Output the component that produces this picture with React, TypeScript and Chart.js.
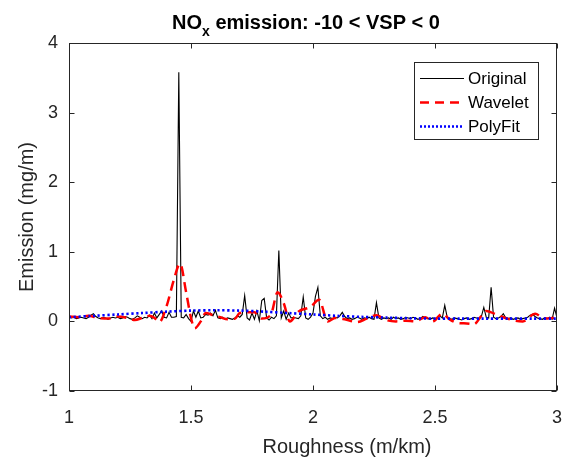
import React, { useEffect, useRef } from "react";
import { Chart, registerables } from "chart.js";

Chart.register(...registerables);

// ---- Data ----
const X_START = 1.0;
const X_STEP = 0.01;
// Original signal, sampled every 0.01 from 1.00 to 3.00
const originalY = [
  0.07, 0.05, 0.06, 0.04, 0.05, 0.06, 0.05, 0.04, 0.06, 0.09,
  0.11, 0.07, 0.05, 0.04, 0.06, 0.05, 0.03, 0.05, 0.06, 0.05,
  0.06, 0.04, 0.05, 0.07, 0.06, 0.04, 0.03, 0.05, 0.08, 0.06,
  0.04, 0.06, 0.05, 0.09, 0.04, 0.12, 0.05, 0.10, 0.15, 0.06,
  0.05, 0.13, 0.06, 0.06, 0.07, 3.58, 0.06, 0.05, 0.10, 0.04,
  0.00, 0.15, 0.06, 0.15, 0.05, 0.06, 0.10, 0.09, 0.12, 0.08,
  0.16, 0.05, 0.04, 0.06, 0.03, 0.05, 0.04, 0.03, 0.05, 0.08,
  0.06, 0.10, 0.37, 0.05, 0.02, 0.12, 0.03, 0.15, 0.01, 0.30,
  0.33, 0.05, 0.02, 0.06, 0.04, 0.08, 1.02, 0.05, 0.15, 0.03,
  0.12, 0.05, 0.06, 0.05, 0.04, 0.08, 0.35, 0.05, 0.03, 0.06,
  0.12, 0.36, 0.49, 0.08, 0.04, 0.06, 0.03, 0.05, 0.04, 0.06,
  0.05, 0.08, 0.13, 0.07, 0.04, 0.05, 0.03, 0.04, 0.06, 0.05,
  0.03, 0.05, 0.04, 0.06, 0.04, 0.03, 0.27, 0.05, 0.03, 0.05,
  0.04, 0.05, 0.03, 0.06, 0.04, 0.05, 0.03, 0.04, 0.06, 0.05,
  0.04, 0.06, 0.05, 0.03, 0.04, 0.07, 0.05, 0.04, 0.03, 0.05,
  0.04, 0.06, 0.08, 0.05, 0.23, 0.06, 0.04, 0.03, 0.05, 0.04,
  0.03, 0.02, 0.04, 0.05, 0.03, 0.04, 0.06, 0.05, 0.04, 0.07,
  0.20, 0.06, 0.05, 0.49, 0.06, 0.04, 0.05, 0.07, 0.11, 0.05,
  0.04, 0.05, 0.03, 0.04, 0.05, 0.03, 0.04, 0.05, 0.06, 0.09,
  0.10, 0.07, 0.05, 0.04, 0.03, 0.05, 0.04, 0.06, 0.03, 0.19,
  0.05,
];

const waveletX = [
  1.0, 1.04, 1.08, 1.12, 1.16, 1.2, 1.24, 1.27, 1.3, 1.33, 1.35, 1.37,
  1.4, 1.43, 1.455, 1.48, 1.5, 1.515, 1.54, 1.56, 1.59, 1.62, 1.65, 1.68,
  1.7, 1.73, 1.76, 1.79, 1.81, 1.83, 1.855, 1.88, 1.905, 1.94, 1.99, 2.025,
  2.06, 2.09, 2.13, 2.18, 2.22, 2.26, 2.3, 2.34, 2.38, 2.42, 2.46, 2.49,
  2.53, 2.56, 2.59, 2.63, 2.66, 2.69, 2.71, 2.73, 2.78, 2.83, 2.86, 2.91,
  2.95, 2.98, 3.0,
];
const waveletY = [
  0.07, 0.06, 0.08, 0.05, 0.04, 0.07, 0.05, 0.02, 0.05, 0.08, 0.05, -0.01,
  0.22, 0.6, 0.83, 0.42, 0.05, -0.1, 0.0, 0.12, 0.09, 0.06, 0.03, 0.04,
  0.12, 0.13, 0.13, 0.04, 0.05, 0.12, 0.42, 0.26, 0.0, 0.14, 0.21, 0.31,
  0.0, 0.05, 0.03, -0.01, 0.04, 0.09, 0.02, 0.0, 0.01, 0.0, 0.06, 0.0,
  0.11, 0.03, -0.02, -0.03, -0.04, 0.08, 0.15, 0.13, 0.06, 0.01, 0.0, 0.11,
  0.04, 0.05, 0.06,
];

const polyX = [1.0, 1.1, 1.2, 1.3, 1.4, 1.5, 1.6, 1.7, 1.8, 1.9, 2.0, 2.1, 2.2, 2.3, 2.4, 2.5, 2.6, 2.7, 2.8, 2.9, 3.0];
const polyY = [0.06, 0.08, 0.1, 0.12, 0.14, 0.155, 0.16, 0.155, 0.14, 0.12, 0.1, 0.08, 0.065, 0.055, 0.045, 0.04, 0.04, 0.04, 0.04, 0.04, 0.04];

const xTicks = [1, 1.5, 2, 2.5, 3];
const yTicks = [-1, 0, 1, 2, 3, 4];

const seriesNames = ["Original", "Wavelet", "PolyFit"];
const titleMain = "NO";
const titleSub = "x";
const titleRest = " emission: -10 < VSP < 0";
const xLabel = "Roughness (m/km)";
const yLabel = "Emission (mg/m)";

const FONT = "'Liberation Sans', Arial, Helvetica, sans-serif";
const AXIS_COLOR = "#262626";

const W = 566;
const H = 461;

const framePlugin = {
  id: "matlabFrame",
  afterDraw(chart: any) {
    const { ctx, chartArea: a, scales } = chart;
    const xs = scales.x;
    const ys = scales.y;
    ctx.save();
    // box
    ctx.strokeStyle = AXIS_COLOR;
    ctx.lineWidth = 1;
    const L = Math.round(a.left) + 0.5;
    const R = Math.round(a.right) - 0.5;
    const T = Math.round(a.top) + 0.5;
    const B = Math.round(a.bottom) - 0.5;
    ctx.strokeRect(L, T, R - L, B - T);
    // inward ticks
    const tl = 5;
    ctx.beginPath();
    xTicks.forEach((v) => {
      const px = Math.round(xs.getPixelForValue(v)) + 0.5;
      ctx.moveTo(px, B);
      ctx.lineTo(px, B - tl);
      ctx.moveTo(px, T);
      ctx.lineTo(px, T + tl);
    });
    yTicks.forEach((v) => {
      const py = Math.round(ys.getPixelForValue(v)) + 0.5;
      ctx.moveTo(L, py);
      ctx.lineTo(L + tl, py);
      ctx.moveTo(R, py);
      ctx.lineTo(R - tl, py);
    });
    ctx.stroke();

    // title with subscript
    ctx.fillStyle = "#000";
    ctx.textBaseline = "alphabetic";
    ctx.textAlign = "left";
    const mainFont = `bold 20px ${FONT}`;
    const subFont = `bold 14px ${FONT}`;
    ctx.font = mainFont;
    const w1 = ctx.measureText(titleMain).width;
    const w3 = ctx.measureText(titleRest).width;
    ctx.font = subFont;
    const w2 = ctx.measureText(titleSub).width;
    const total = w1 + w2 + w3;
    let tx = 306 - total / 2;
    const ty = 29;
    ctx.font = mainFont;
    ctx.fillText(titleMain, tx, ty);
    tx += w1;
    ctx.font = subFont;
    ctx.fillText(titleSub, tx, ty + 7);
    tx += w2;
    ctx.font = mainFont;
    ctx.fillText(titleRest, tx, ty);

    // axis labels
    ctx.fillStyle = AXIS_COLOR;
    ctx.font = `20px ${FONT}`;
    ctx.textAlign = "center";
    ctx.textBaseline = "alphabetic";
    ctx.fillText(xLabel, 347, 453);
    ctx.save();
    ctx.translate(33, 217);
    ctx.rotate(-Math.PI / 2);
    ctx.fillText(yLabel, 0, 0);
    ctx.restore();

    // legend
    const lx = 414.5, ly = 62.5, lw = 124, lh = 77;
    ctx.fillStyle = "#fff";
    ctx.fillRect(lx, ly, lw, lh);
    ctx.strokeStyle = AXIS_COLOR;
    ctx.lineWidth = 1;
    ctx.strokeRect(lx, ly, lw, lh);
    const rows = [78, 102, 126];
    const styles = [
      { color: "#000", width: 1, dash: [] as number[] },
      { color: "#ff0000", width: 2.5, dash: [9, 6] },
      { color: "#0000ff", width: 2.5, dash: [2, 2] },
    ];
    rows.forEach((ry, i) => {
      const s = styles[i];
      ctx.beginPath();
      ctx.strokeStyle = s.color;
      ctx.lineWidth = s.width;
      ctx.setLineDash(s.dash);
      ctx.moveTo(420, ry + 0.5);
      ctx.lineTo(464, ry + 0.5);
      ctx.stroke();
      ctx.setLineDash([]);
      ctx.fillStyle = "#000";
      ctx.font = `17px ${FONT}`;
      ctx.textAlign = "left";
      ctx.textBaseline = "middle";
      ctx.fillText(seriesNames[i], 468, ry + 1);
    });
    ctx.restore();
  },
};

export default function App() {
  const ref = useRef<HTMLCanvasElement | null>(null);

  useEffect(() => {
    if (!ref.current) return;
    const originalData = originalY.map((v, i) => ({
      x: Math.round((X_START + i * X_STEP) * 100) / 100,
      y: v,
    }));
    const waveletData = waveletX.map((x, i) => ({ x, y: waveletY[i] }));
    const polyData = polyX.map((x, i) => ({ x, y: polyY[i] }));

    const chart = new Chart(ref.current, {
      type: "line",
      data: {
        datasets: [
          {
            label: seriesNames[0],
            data: originalData,
            borderColor: "#000",
            borderWidth: 1.1,
            pointRadius: 0,
            tension: 0,
            order: 3,
          },
          {
            label: seriesNames[1],
            data: waveletData,
            borderColor: "#ff0000",
            borderWidth: 2.5,
            borderDash: [10, 6],
            pointRadius: 0,
            cubicInterpolationMode: "monotone",
            order: 2,
          },
          {
            label: seriesNames[2],
            data: polyData,
            borderColor: "#0000ff",
            borderWidth: 2.6,
            borderDash: [2.2, 2.6],
            pointRadius: 0,
            tension: 0.3,
            order: 1,
          },
        ],
      },
      options: {
        responsive: false,
        animation: false,
        devicePixelRatio: 1,
        layout: { padding: { left: 0, right: 9, top: 43, bottom: 0 } },
        plugins: {
          legend: { display: false },
          title: { display: false },
          tooltip: { enabled: false },
        },
        scales: {
          x: {
            type: "linear",
            min: 1,
            max: 3,
            grid: { display: false, drawTicks: false },
            border: { display: false },
            afterBuildTicks: (scale: any) => {
              scale.ticks = xTicks.map((v) => ({ value: v }));
            },
            afterFit: (scale: any) => {
              scale.height = 70;
              scale.paddingLeft = 0;
              scale.paddingRight = 0;
            },
            ticks: {
              padding: 16,
              maxRotation: 0,
              color: AXIS_COLOR,
              font: { family: FONT, size: 18 },
              callback: (v: any) => String(v),
            },
          },
          y: {
            type: "linear",
            min: -1,
            max: 4,
            grid: { display: false, drawTicks: false },
            border: { display: false },
            afterBuildTicks: (scale: any) => {
              scale.ticks = yTicks.map((v) => ({ value: v }));
            },
            afterFit: (scale: any) => {
              scale.width = 69;
              scale.paddingTop = 0;
              scale.paddingBottom = 0;
            },
            ticks: {
              padding: 11,
              color: AXIS_COLOR,
              font: { family: FONT, size: 18 },
              callback: (v: any) => String(v),
            },
          },
        },
      },
      plugins: [framePlugin],
    });
    return () => chart.destroy();
  }, []);

  return (
    <div style={{ position: "absolute", left: 0, top: 0, width: W, height: H, background: "#fff" }}>
      <canvas ref={ref} width={W} height={H} style={{ width: W, height: H, display: "block" }} />
    </div>
  );
}
